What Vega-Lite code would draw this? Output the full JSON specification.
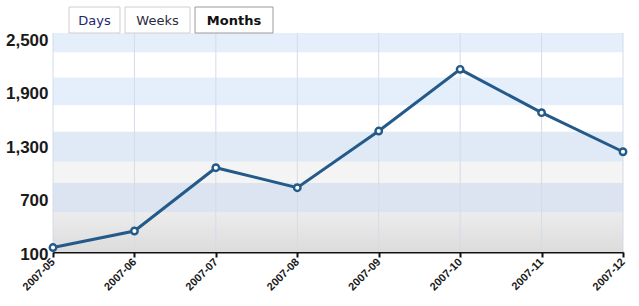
{
  "$schema": "https://vega.github.io/schema/vega-lite/v6.json",
  "width": 570,
  "height": 219,
  "autosize": {"type": "none"},
  "padding": {"left": 53, "top": 33, "right": 16, "bottom": 54},
  "background": "white",
  "config": {"view": {"stroke": null}},
  "datasets": {
    "visits": [
      {"month": "2007-05", "value": 150},
      {"month": "2007-06", "value": 336},
      {"month": "2007-07", "value": 1047},
      {"month": "2007-08", "value": 822},
      {"month": "2007-09", "value": 1459},
      {"month": "2007-10", "value": 2152},
      {"month": "2007-11", "value": 1665},
      {"month": "2007-12", "value": 1226}
    ],
    "bands": [
      {"lo": 2340, "hi": 2560, "shade": "blue"},
      {"lo": 2060, "hi": 2340, "shade": "white"},
      {"lo": 1745, "hi": 2060, "shade": "blue"},
      {"lo": 1450, "hi": 1745, "shade": "white"},
      {"lo": 1115, "hi": 1450, "shade": "blue2"},
      {"lo": 875, "hi": 1115, "shade": "pale"},
      {"lo": 540, "hi": 875, "shade": "blue3"}
    ],
    "floor": [{"lo": 100, "hi": 540}]
  },
  "layer": [
    {
      "data": {"name": "bands"},
      "mark": {"type": "rect", "clip": true},
      "encoding": {
        "y": {"field": "hi", "type": "quantitative", "scale": {"domain": [100, 2560], "nice": false, "zero": false},
              "axis": {"title": null, "values": [100, 700, 1300, 1900, 2500], "format": ",d", "grid": false, "domain": false, "ticks": false,
                       "labelFont": "Liberation Sans", "labelFontWeight": "bold", "labelFontSize": 17, "labelColor": "#1a1a1a", "labelPadding": 5, "labelOffset": 2}},
        "y2": {"field": "lo"},
        "color": {
          "field": "shade", "type": "nominal", "legend": null,
          "scale": {"domain": ["blue", "white", "blue2", "pale", "blue3"], "range": ["#e5eefb", "#ffffff", "#e0e9f6", "#f4f4f4", "#dbe4f0"]}
        }
      }
    },
    {
      "data": {"name": "floor"},
      "mark": {"type": "rect", "clip": true, "color": {"gradient": "linear", "x1": 0, "y1": 0, "x2": 0, "y2": 1, "stops": [{"offset": 0, "color": "#ececec"}, {"offset": 1, "color": "#dcdcdc"}]}},
      "encoding": {
        "y": {"field": "hi", "type": "quantitative"},
        "y2": {"field": "lo"}
      }
    },
    {
      "data": {"name": "visits"},
      "mark": {"type": "rule", "color": "#d3dce8", "strokeWidth": 1},
      "encoding": {
        "x": {"field": "month", "type": "ordinal"}
      }
    },
    {
      "data": {"name": "visits"},
      "mark": {"type": "line", "color": "#245a8a", "strokeWidth": 3, "point": {"filled": false, "fill": "white", "stroke": "#245a8a", "strokeWidth": 2.4, "size": 42}},
      "encoding": {
        "x": {
          "field": "month", "type": "ordinal", "scale": {"type": "point", "padding": 0},
          "axis": {"title": null, "labelAngle": -45, "labelAlign": "right", "labelBaseline": "middle", "labelFont": "Liberation Sans", "labelFontWeight": "bold", "labelFontSize": 11, "labelColor": "#1a1a1a", "labelPadding": 3,
                   "domainColor": "#111", "domainWidth": 2, "tickColor": "#111", "tickWidth": 2, "tickSize": 5, "grid": false}
        },
        "y": {"field": "value", "type": "quantitative"}
      }
    },
    {
      "data": {"values": [{"tab": "Days"}]},
      "mark": {"type": "rect", "fill": "white", "stroke": "#cfcfcf", "strokeWidth": 1},
      "encoding": {"x": {"value": 16}, "x2": {"value": 67}, "y": {"value": -26}, "y2": {"value": 0}}
    },
    {
      "data": {"values": [{"tab": "Weeks"}]},
      "mark": {"type": "rect", "fill": "white", "stroke": "#cfcfcf", "strokeWidth": 1},
      "encoding": {"x": {"value": 72}, "x2": {"value": 137}, "y": {"value": -26}, "y2": {"value": 0}}
    },
    {
      "data": {"values": [{"tab": "Months"}]},
      "mark": {"type": "rect", "fill": "white", "stroke": "#9a9a9a", "strokeWidth": 1},
      "encoding": {"x": {"value": 142}, "x2": {"value": 220}, "y": {"value": -26}, "y2": {"value": 0}}
    },
    {
      "data": {"values": [{"tab": "Days"}]},
      "mark": {"type": "text", "font": "DejaVu Sans", "fontSize": 13, "color": "#26266e", "baseline": "middle", "align": "center"},
      "encoding": {"text": {"field": "tab"}, "x": {"value": 41.5}, "y": {"value": -12}}
    },
    {
      "data": {"values": [{"tab": "Weeks"}]},
      "mark": {"type": "text", "font": "DejaVu Sans", "fontSize": 13, "color": "#2b2b3b", "baseline": "middle", "align": "center"},
      "encoding": {"text": {"field": "tab"}, "x": {"value": 104.5}, "y": {"value": -12}}
    },
    {
      "data": {"values": [{"tab": "Months"}]},
      "mark": {"type": "text", "font": "DejaVu Sans", "fontSize": 13, "fontWeight": "bold", "color": "#111111", "baseline": "middle", "align": "center"},
      "encoding": {"text": {"field": "tab"}, "x": {"value": 181}, "y": {"value": -12}}
    }
  ]
}
